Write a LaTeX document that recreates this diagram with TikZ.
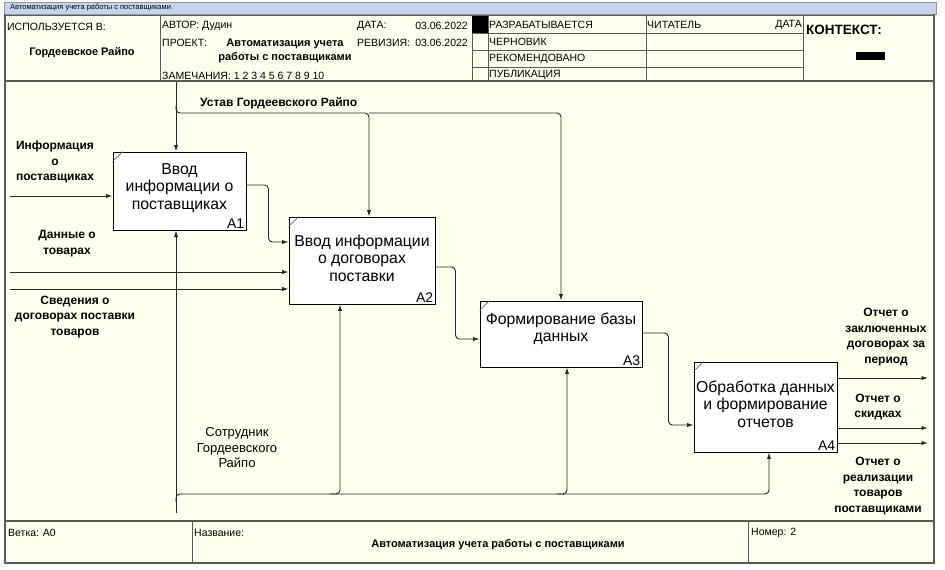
\documentclass[tikz,border=0pt]{standalone}
\usepackage{fontspec}
\setmainfont{Liberation Sans}
\usetikzlibrary{arrows.meta}
\definecolor{cream}{RGB}{255,255,238}
\definecolor{titlebar}{RGB}{196,212,236}
\definecolor{framegray}{RGB}{90,90,90}
\begin{document}
\begin{tikzpicture}[x=1pt,y=-1pt,
  arr/.style={draw=black!85, line width=0.9pt, -{Latex[length=6.5pt,width=4.2pt]}, rounded corners=4pt},
  box/.style={draw=black, line width=0.9pt, fill=white, inner sep=0pt},
  corner/.style={draw=black!60, line width=0.6pt},
  btext/.style={font=\fontsize{15.8}{17.5}\selectfont, align=center, inner sep=0pt},
  bnum/.style={font=\fontsize{14}{14}\selectfont, anchor=south east, inner sep=2pt},
  lbl/.style={font=\bfseries\fontsize{12}{15.5}\selectfont, align=center, inner sep=0pt},
  lblr/.style={font=\fontsize{13}{15.5}\selectfont, align=center, inner sep=0pt},
  hdr/.style={font=\fontsize{10.5}{11}\selectfont, anchor=west, inner sep=0pt},
  hdrb/.style={font=\bfseries\fontsize{11}{14.5}\selectfont, align=center, inner sep=0pt},
  hline/.style={draw=framegray, line width=0.8pt},
  fline/.style={draw=framegray, line width=2.2pt},
]
\useasboundingbox (0,0) rectangle (945,570);
\fill[white] (0,0) rectangle (945,570);
\fill[cream] (5,14) rectangle (934,563);
% title bar
\fill[titlebar] (4,2) rectangle (936,14);
\draw[draw=black!40, line width=0.5pt] (4,2) rectangle (936,14);
\node[anchor=west, inner sep=0pt, font=\fontsize{7.5}{8}\selectfont] (ttl) at (10,8) {Автоматизация учета работы с поставщиками};
% frame
\draw[hline] (5,15) -- (934,15);
\draw[hline, line width=1.2pt] (5,81) -- (934,81);
\draw[hline, line width=1.2pt] (5,521) -- (934,521);
\draw[fline] (5,14) -- (5,564);
\draw[fline] (934,14) -- (934,564);
\draw[fline] (4,563) -- (935,563);
% header grid
\draw[hline] (160,15) -- (160,81);
\draw[hline] (472,15) -- (472,81);
\draw[hline] (488,15) -- (488,81);
\draw[hline] (646,15) -- (646,81);
\draw[hline] (803,15) -- (803,81);
\draw[hline] (472,33) -- (803,33);
\draw[hline] (472,50) -- (803,50);
\draw[hline] (472,67) -- (803,67);
\fill[black] (472,16) rectangle (488,33);
% footer grid
\draw[hline] (192,521) -- (192,563);
\draw[hline] (748,521) -- (748,563);
% header text
\node[hdr] (h1) at (7,27) {ИСПОЛЬЗУЕТСЯ В:};
\node[hdrb] (h2) at (82,53) {Гордеевское Райпо};
\node[hdr] (h3) at (162,26) {АВТОР: Дудин};
\node[hdr] (h4) at (357,26) {ДАТА:};
\node[hdr, anchor=east] (h5) at (468,26) {03.06.2022};
\node[hdr] (h6) at (162,43) {ПРОЕКТ:};
\node[hdrb] (h7) at (285,51) {Автоматизация учета\\работы с поставщиками};
\node[hdr] (h8) at (357,43) {РЕВИЗИЯ:};
\node[hdr, anchor=east] (h9) at (468,43) {03.06.2022};
\node[hdr] (h10) at (162,76) {ЗАМЕЧАНИЯ: 1 2 3 4 5 6 7 8 9 10};
\node[hdr] (s1) at (489,25) {РАЗРАБАТЫВАЕТСЯ};
\node[hdr] (s2) at (489,42) {ЧЕРНОВИК};
\node[hdr] (s3) at (489,59) {РЕКОМЕНДОВАНО};
\node[hdr] (s4) at (489,75) {ПУБЛИКАЦИЯ};
\node[hdr] (r1) at (647,25) {ЧИТАТЕЛЬ};
\node[hdr, anchor=east] (r2) at (802,25) {ДАТА};
\node[anchor=west, inner sep=0pt, font=\bfseries\fontsize{13.5}{14}\selectfont] (ctx) at (806,30) {КОНТЕКСТ:};
\fill[black] (856,52) rectangle (885,60);
% footer text
\node[hdr] (f1) at (8,533) {Ветка: A0};
\node[hdr] (f2) at (194,533) {Название:};
\node[hdrb] (f3) at (498,545) {Автоматизация учета работы с поставщиками};
\node[hdr] (f4) at (751,533) {Номер: 2};
% boxes
\node[box, minimum width=133pt, minimum height=78pt] (A1) at (179.5,191) {};
\node[box, minimum width=146pt, minimum height=87pt] (A2) at (362,260.5) {};
\node[box, minimum width=162pt, minimum height=66pt] (A3) at (561,334) {};
\node[box, minimum width=143pt, minimum height=90pt] (A4) at (765.5,407) {};
\foreach \b in {A1,A2,A3,A4}{
  \draw[corner] ([yshift=-10pt]\b.north west) -- ([xshift=10pt]\b.north west);
}
\node[btext] (t1) at ([yshift=3pt]A1.center) {Ввод\\информации о\\поставщиках};
\node[btext] (t2) at ([yshift=2.5pt]A2.center) {Ввод информации\\о договорах\\поставки};
\node[btext] (t3) at ([yshift=5pt]A3.center) {Формирование базы\\данных};
\node[btext] (t4) at ([yshift=3pt]A4.center) {Обработка данных\\и формирование\\отчетов};
\node[bnum] (n1) at (A1.south east) {A1};
\node[bnum] (n2) at (A2.south east) {A2};
\node[bnum] (n3) at (A3.south east) {A3};
\node[bnum] (n4) at (A4.south east) {A4};
% controls
\coordinate (ctop) at (176,82);
\coordinate (cj) at (176,113);
\coordinate (c2) at (369,113);
\coordinate (c3) at (561,113);
\draw[arr] (ctop) -- (ctop |- A1.north);
\draw[arr] ([yshift=8pt]cj) -- (cj) -- (c2) -- (c2 |- A2.north);
\draw[arr] (c2) -- (c3) -- (c3 |- A3.north);
% inputs
\coordinate (i1) at (10,196);
\coordinate (i2) at (10,272);
\coordinate (i3) at (10,289);
\draw[arr] (i1) -- (i1 -| A1.west);
\draw[arr] (i2) -- (i2 -| A2.west);
\draw[arr] (i3) -- (i3 -| A2.west);
% flows between boxes
\draw[arr] ([yshift=6pt]A1.east) -- ++(22,0) |- ([yshift=18.5pt]A2.west);
\draw[arr] ([yshift=-6.5pt]A2.east) -- ++(20,0) |- ([yshift=-5pt]A3.west);
\draw[arr] ([yshift=1pt]A3.east) -- ++(26,0) |- ([yshift=-18pt]A4.west);
% outputs
\coordinate (o1) at (928,378);
\coordinate (o2) at (928,428);
\coordinate (o3) at (928,443);
\draw[arr] (o1 -| A4.east) -- (o1);
\draw[arr] (o2 -| A4.east) -- (o2);
\draw[arr] (o3 -| A4.east) -- (o3);
% mechanisms
\coordinate (m0) at (176,513);
\coordinate (mj) at (176,494);
\coordinate (m2) at (340,494);
\coordinate (m3) at (567,494);
\coordinate (m4) at (769,494);
\draw[arr] (m0) -- (m0 |- A1.south);
\draw[arr] ([yshift=-8pt]mj) -- (mj) -- (m2) -- (m2 |- A2.south);
\draw[arr] ([xshift=-10pt]m2) -- (m3) -- (m3 |- A3.south);
\draw[arr] ([xshift=-10pt]m3) -- (m4) -- (m4 |- A4.south);
% labels
\node[lbl, anchor=west] (l0) at (200,103) {Устав Гордеевского Райпо};
\node[lbl] (l1) at (55,162) {Информация\\о\\поставщиках};
\node[lbl] (l2) at (67,243.5) {Данные о\\товарах};
\node[lbl] (l3) at (75,317) {Сведения о\\договорах поставки\\товаров};
\node[lblr] (l4) at (237,448) {Сотрудник\\Гордеевского\\Райпо};
\node[lbl] (l5) at (886,337) {Отчет о\\заключенных\\договорах за\\период};
\node[lbl] (l6) at (878,407) {Отчет о\\скидках};
\node[lbl] (l7) at (878,486) {Отчет о\\реализации\\товаров\\поставщиками};
\end{tikzpicture}
\end{document}
